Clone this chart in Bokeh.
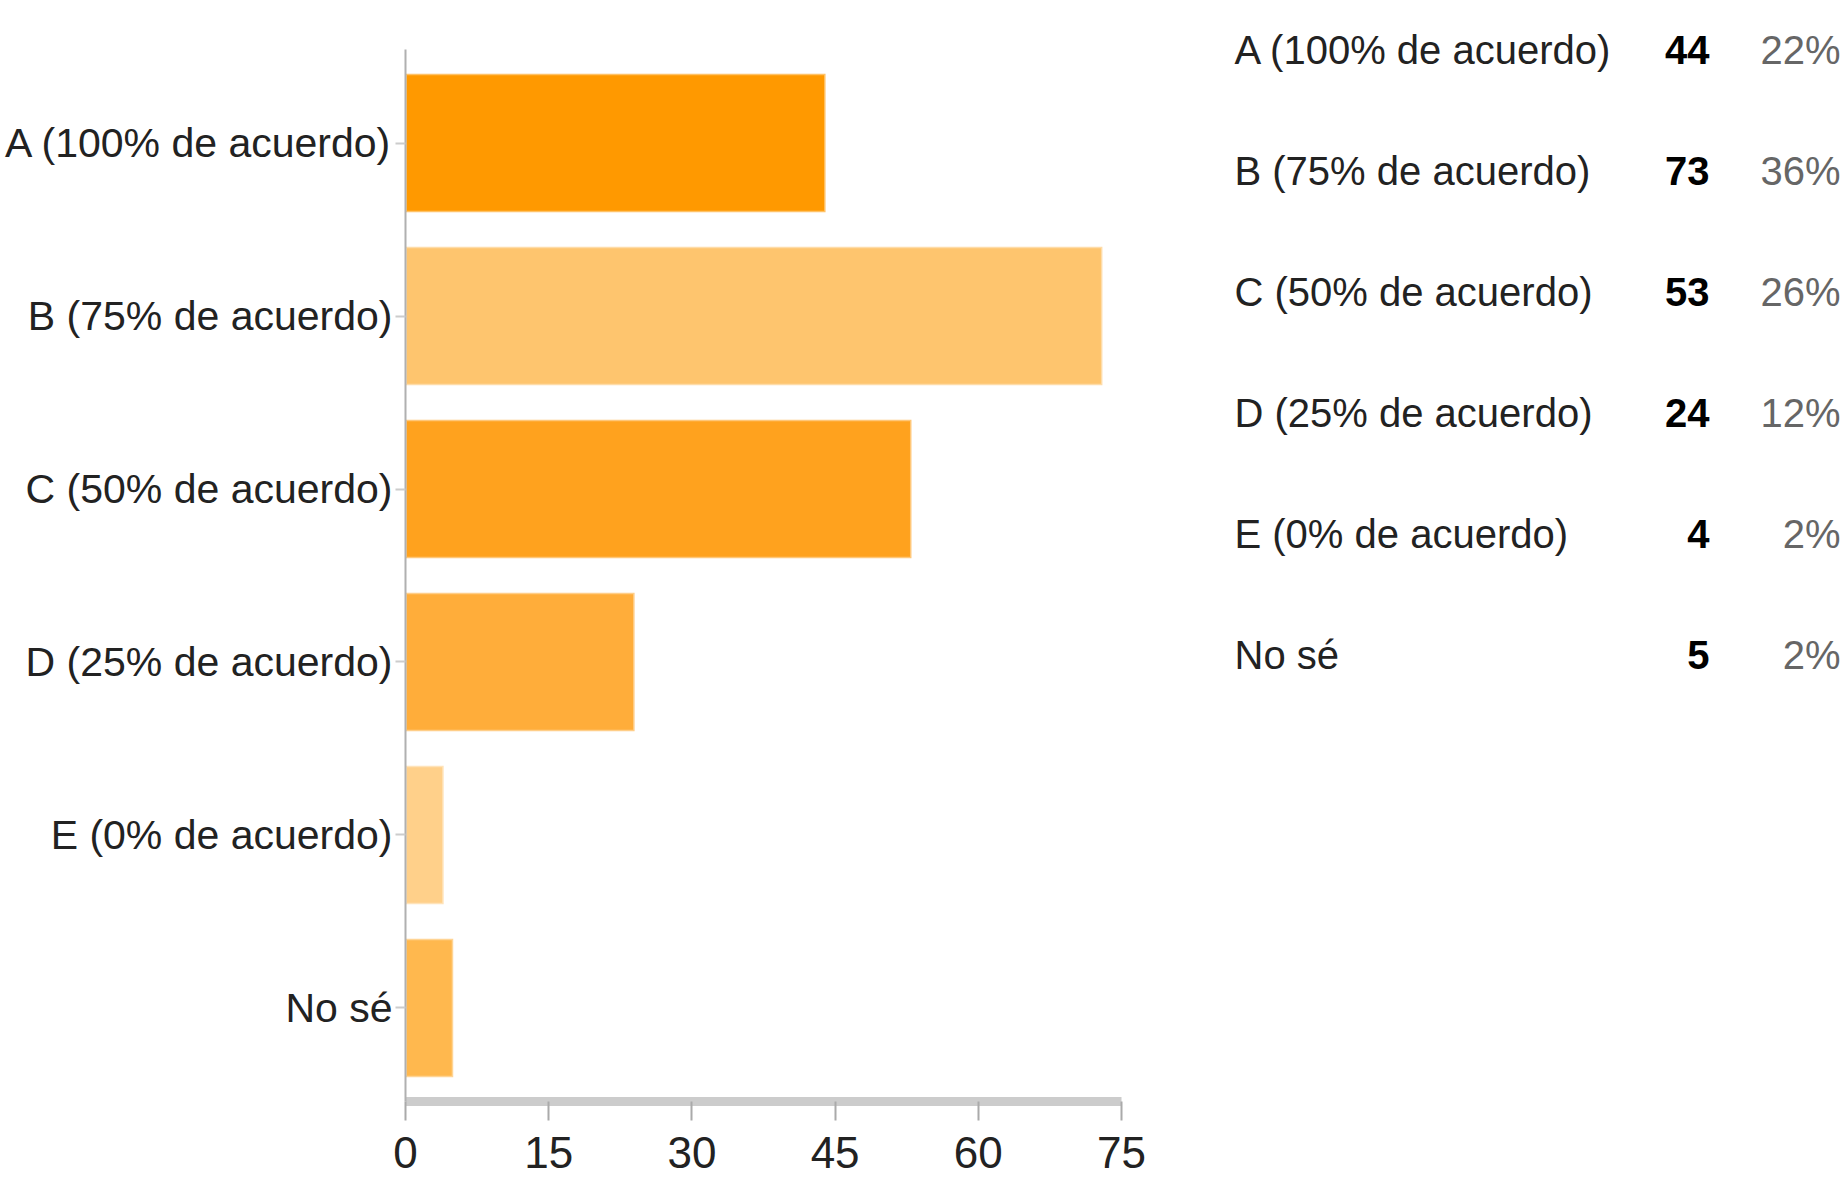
from bokeh.plotting import figure
from bokeh.models import ColumnDataSource, FactorRange, Range1d, FixedTicker
from bokeh.layouts import row
from bokeh.embed import file_html
from bokeh.resources import INLINE
from bokeh.core.properties import value

# ---- data ----
categories = ["A (100% de acuerdo)", "B (75% de acuerdo)", "C (50% de acuerdo)",
              "D (25% de acuerdo)", "E (0% de acuerdo)", "No sé"]
table_labels = ["A (100% de acuerdo)", "B (75% de acuerdo)", "C (50% de acuerdo)",
                "D (25% de acuerdo)", "E (0% de acuerdo)", "No sé"]
counts = [44, 73, 53, 24, 4, 5]
percents = ["22%", "36%", "26%", "12%", "2%", "2%"]
x_ticks = [0, 15, 30, 45, 60, 75]

# ---- styles ----
bar_colors = ["#FF9900", "#FEC56E", "#FFA21E", "#FFAD3A", "#FFD08A", "#FFB84E"]
FONT = "'Liberation Sans', Arial, sans-serif"
H = 1187
W1, W2 = 1200, 644
FRAME_TOP, FRAME_BOTTOM = 49, 1101

src = ColumnDataSource(dict(cat=categories, count=counts, color=bar_colors))

p = figure(width=W1, height=H, output_backend="svg", toolbar_location=None,
           y_range=FactorRange(factors=list(reversed(categories)), range_padding=0.0135),
           x_range=Range1d(0, 75),
           min_border_left=405, min_border_right=W1 - 1121, min_border_top=FRAME_TOP,
           min_border_bottom=H - FRAME_BOTTOM)
p.hbar(y="cat", left=0, right="count", height=0.8, fill_color="color", source=src,
       line_color="white", line_alpha=0.4, line_width=3)

p.grid.visible = False
p.outline_line_color = None

p.yaxis.axis_line_color = "#b0b0b0"
p.yaxis.axis_line_width = 2
p.yaxis.major_tick_out = 10
p.yaxis.major_tick_in = 0
p.yaxis.major_tick_line_color = "#cccccc"
p.yaxis.major_tick_line_width = 2
p.yaxis.major_label_standoff = 3
p.yaxis.major_label_text_font = FONT
p.yaxis.major_label_text_font_size = "41px"
p.yaxis.major_label_text_color = "#222222"

p.xaxis.ticker = FixedTicker(ticks=x_ticks)
p.xaxis.axis_line_color = "#cccccc"
p.xaxis.axis_line_width = 9
p.xaxis.major_tick_out = 19
p.xaxis.major_tick_in = 0
p.xaxis.major_tick_line_color = "#aaaaaa"
p.xaxis.major_tick_line_width = 2
p.xaxis.minor_tick_line_color = None
p.xaxis.major_label_standoff = 16
p.xaxis.major_label_text_font = FONT
p.xaxis.major_label_text_font_size = "44px"
p.xaxis.major_label_text_color = "#222222"

# ---- right-hand table ----
rows_idx = list(range(len(table_labels)))
tsrc = ColumnDataSource(dict(r=rows_idx, lab=table_labels,
                             cnt=[str(c) for c in counts], pct=percents))
t = figure(width=W2, height=H, output_backend="svg", toolbar_location=None,
           x_range=Range1d(0, W2), y_range=Range1d(8.700, -0.008),
           min_border_left=0, min_border_right=0, min_border_top=FRAME_TOP,
           min_border_bottom=H - FRAME_BOTTOM)
t.axis.visible = False
t.grid.visible = False
t.outline_line_color = None

TFS = "40px"
LABEL_X, COUNT_X, PCT_X = 34, 509, 640
r1 = t.text(x=LABEL_X, y="r", text="lab", source=tsrc, text_font=value(FONT),
            text_font_size=TFS, text_color="#222222", text_align="left",
            text_baseline="alphabetic")
r2 = t.text(x=COUNT_X, y="r", text="cnt", source=tsrc, text_font=value(FONT),
            text_font_size=TFS, text_font_style="bold", text_color="#000000",
            text_align="right", text_baseline="alphabetic")
r3 = t.text(x=PCT_X, y="r", text="pct", source=tsrc, text_font=value(FONT),
            text_font_size=TFS, text_color="#666666", text_align="right",
            text_baseline="alphabetic")
for r in (r1, r2, r3):
    r.level = "overlay"

layout = row(p, t)
open("out.html", "w").write(file_html(layout, INLINE))
